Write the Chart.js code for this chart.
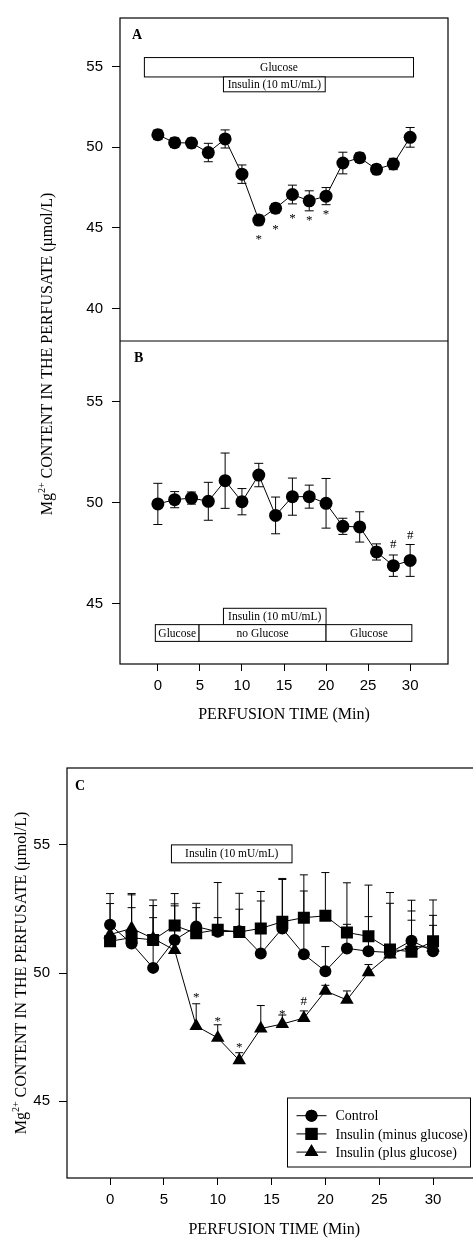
<!DOCTYPE html>
<html>
<head>
<meta charset="utf-8">
<title>Mg2+ content in the perfusate</title>
<script src="https://cdn.jsdelivr.net/npm/chart.js@4.4.1/dist/chart.umd.min.js"></script>
<style>
  html, body { margin: 0; padding: 0; background: #fff; overflow: hidden; }
  body { width: 473px; height: 1240px; position: relative; }
  .panel { position: absolute; left: 0; }
</style>
</head>
<body>
<div class="panel" style="top:0"><canvas id="chart-ab" width="473" height="740"></canvas></div>
<div class="panel" style="top:740px"><canvas id="chart-c" width="490" height="500"></canvas></div>
<script>
// ---- data ----
const timePoints = [0, 2, 4, 6, 8, 10, 12, 14, 16, 18, 20, 22, 24, 26, 28, 30];
const xTicks = [0, 5, 10, 15, 20, 25, 30];
const yTicksA = [40, 45, 50, 55];
const yTicksB = [45, 50, 55];
const yTicksC = [45, 50, 55];

// panel A: insulin with glucose
const valuesA = [50.77, 50.28, 50.26, 49.67, 50.51, 48.33, 45.49, 46.22, 47.07, 46.68, 46.97, 49.02, 49.35, 48.63, 48.96, 50.61];
const errorsA = [0.3, 0.3, 0.3, 0.57, 0.56, 0.57, 0.3, 0.3, 0.58, 0.62, 0.53, 0.67, 0.3, 0.3, 0.35, 0.61];
const marksA = [
  { x: 12, y: 44.41, text: "*" }, { x: 14, y: 45.02, text: "*" }, { x: 16, y: 45.69, text: "*" },
  { x: 18, y: 45.57, text: "*" }, { x: 20, y: 45.93, text: "*" },
];
const treatmentsA = [
  { label: "Glucose", from: -1.6, to: 30.4, row: 0 },
  { label: "Insulin (10 mU/mL)", from: 7.8, to: 19.9, row: 1 },
];

// panel B: insulin without glucose
const valuesB = [49.93, 50.14, 50.22, 50.06, 51.08, 50.04, 51.36, 49.36, 50.29, 50.29, 49.96, 48.82, 48.79, 47.55, 46.87, 47.13];
const errorsB = [1.02, 0.4, 0.3, 0.94, 1.37, 0.65, 0.58, 0.91, 0.92, 0.57, 1.23, 0.4, 0.75, 0.4, 0.53, 0.79];
const marksB = [{ x: 28, y: 47.9, text: "#" }, { x: 30, y: 48.37, text: "#" }];
const treatmentsB = [
  { label: "Insulin (10 mU/mL)", from: 7.8, to: 20.0, row: 0 },
  { label: "Glucose", from: -0.3, to: 4.9, row: 1 },
  { label: "no Glucose", from: 4.9, to: 20.0, row: 1 },
  { label: "Glucose", from: 20.0, to: 30.2, row: 1 },
];

// panel C: three groups, upper error bars only
const seriesLabelsC = ["Control", "Insulin (minus glucose)", "Insulin (plus glucose)"];
const controlC = [51.88, 51.15, 50.2, 51.29, 51.81, 51.61, 51.63, 50.76, 51.74, 50.73, 50.07, 50.96, 50.85, 50.8, 51.26, 50.85];
const controlErrC = [1.22, 1.9, 2.43, 1.41, 0.91, 0.55, 0.86, 2.05, 1.91, 2.47, 0.96, 0.94, 1.35, 1.92, 1.16, 1.4];
const minusGlucoseC = [51.24, 51.38, 51.29, 51.85, 51.55, 51.69, 51.6, 51.74, 52.0, 52.16, 52.23, 51.58, 51.43, 50.92, 50.83, 51.24];
const minusGlucoseErrC = [1.47, 1.72, 1.56, 1.25, 1.0, 1.84, 1.51, 1.44, 1.69, 1.67, 1.69, 1.94, 2.0, 2.22, 2.01, 1.61];
const plusGlucoseC = [51.5, 51.74, 51.35, 50.89, 47.93, 47.47, 46.59, 47.83, 48.01, 48.24, 49.3, 48.95, 50.03, 50.72, 51.05, 50.99];
const plusGlucoseErrC = [0.3, 0.81, 0.81, 1.73, 0.87, 0.51, 0.3, 0.9, 0.35, 0.28, 0.22, 0.35, 0.3, 0.3, 1.01, 0.87];
const marksC = [
  { x: 8, y: 49.1, text: "*" }, { x: 10, y: 48.19, text: "*" }, { x: 12, y: 47.18, text: "*" },
  { x: 16, y: 48.45, text: "*" }, { x: 18, y: 48.87, text: "#" },
];
const treatmentsC = [{ label: "Insulin (10 mU/mL)", from: 5.7, to: 16.9, row: 0 }];

const Y_TITLE = ["Mg", "2+", " CONTENT IN THE PERFUSATE (\u00b5mol/L)"];
const X_TITLE = "PERFUSION TIME (Min)";

// ---- helpers ----
const SERIF = "'Liberation Serif', 'Times New Roman', serif";
const SANS = "'Liberation Sans', Arial, sans-serif";

const toXY = (values) => values.map((v, i) => ({ x: timePoints[i], y: v }));

function xScale(min, max, height) {
  return {
    type: "linear", position: "bottom", min, max,
    afterBuildTicks: (s) => { s.ticks = xTicks.map((v) => ({ value: v })); },
    afterFit: (s) => { s.height = height; },
    grid: { drawOnChartArea: false, drawTicks: true, tickLength: 7, color: "#000", lineWidth: 1 },
    border: { display: false },
    ticks: { color: "#000", padding: 6, maxRotation: 0, font: { family: SANS, size: 15 } },
  };
}

function yScale(min, max, tickValues, width, extra) {
  return Object.assign({
    type: "linear", position: "left", min, max,
    afterBuildTicks: (s) => { s.ticks = tickValues.map((v) => ({ value: v })); },
    afterFit: (s) => { s.width = width; },
    grid: { drawOnChartArea: false, drawTicks: true, tickLength: 8, color: "#000", lineWidth: 1 },
    border: { display: false },
    ticks: { color: "#000", padding: 9, font: { family: SANS, size: 15 } },
  }, extra || {});
}

function drawMarker(ctx, style, radius, x, y) {
  if (Chart.helpers && Chart.helpers.drawPoint) {
    Chart.helpers.drawPoint(ctx, { pointStyle: style, radius, rotation: 0, borderWidth: 0 }, x, y);
    ctx.fill();
  }
}

// error bars under the markers
const errorBarPlugin = {
  id: "errorBars",
  beforeDatasetsDraw(chart) {
    const ctx = chart.ctx;
    chart.data.datasets.forEach((ds, i) => {
      if (!ds.errors) return;
      const meta = chart.getDatasetMeta(i);
      const ys = chart.scales[meta.yAxisID];
      const cap = ds.capHalf || 4;
      ctx.save();
      ctx.strokeStyle = "#000";
      ctx.lineWidth = 1;
      meta.data.forEach((pt, j) => {
        const v = ds.data[j].y;
        const err = ds.errors[j];
        const top = ys.getPixelForValue(v + err);
        const bottom = ds.errorDir === "up" ? pt.y : ys.getPixelForValue(v - err);
        ctx.beginPath();
        ctx.moveTo(pt.x, top);
        ctx.lineTo(pt.x, bottom);
        ctx.moveTo(pt.x - cap, top);
        ctx.lineTo(pt.x + cap, top);
        if (ds.errorDir !== "up") {
          ctx.moveTo(pt.x - cap, bottom);
          ctx.lineTo(pt.x + cap, bottom);
        }
        ctx.stroke();
      });
      ctx.restore();
    });
  },
};

// frame, treatment boxes, significance marks, panel letters, titles, legend
const figurePlugin = {
  id: "figure",
  afterDatasetsDraw(chart, args, opts) {
    const { ctx, chartArea: area, scales } = chart;
    const xs = scales.x;
    ctx.save();
    ctx.strokeStyle = "#000";
    ctx.fillStyle = "#000";

    // treatment boxes
    ctx.lineWidth = 1;
    ctx.textAlign = "center";
    ctx.textBaseline = "middle";
    (opts.treatments || []).forEach((group) => {
      const ys = scales[group.scale];
      group.items.forEach((b) => {
        const row = group.rows[b.row];
        const l = xs.getPixelForValue(b.from);
        const r = xs.getPixelForValue(b.to);
        const t = ys.getPixelForValue(row[0]);
        const bt = ys.getPixelForValue(row[1]);
        ctx.fillStyle = "#fff";
        ctx.fillRect(l, t, r - l, bt - t);
        ctx.strokeRect(l, t, r - l, bt - t);
        ctx.fillStyle = "#000";
        ctx.font = `${group.fontSize || 11.5}px ${SERIF}`;
        ctx.fillText(b.label, (l + r) / 2, (t + bt) / 2 + 0.5);
      });
    });

    // significance marks
    ctx.font = `13px ${SERIF}`;
    (opts.marks || []).forEach((group) => {
      const ys = scales[group.scale];
      group.items.forEach((m) => {
        const dy = m.text === "*" ? 2 : 0;
        ctx.fillText(m.text, xs.getPixelForValue(m.x), ys.getPixelForValue(m.y) + dy);
      });
    });

    // frame and panel dividers
    ctx.lineWidth = 1.2;
    ctx.strokeRect(area.left, area.top, area.width, area.height);
    (opts.dividers || []).forEach((id) => {
      const y = scales[id].bottom;
      ctx.beginPath();
      ctx.moveTo(area.left, y);
      ctx.lineTo(area.right, y);
      ctx.stroke();
    });

    // panel letters
    ctx.textAlign = "left";
    ctx.font = `bold 14px ${SERIF}`;
    (opts.letters || []).forEach((p) => {
      ctx.fillText(p.text, area.left + p.dx, scales[p.scale].top + p.dy);
    });

    // x title
    ctx.textAlign = "center";
    ctx.font = `16px ${SERIF}`;
    ctx.fillText(X_TITLE, (area.left + area.right) / 2, area.bottom + opts.xTitleOffset);

    // y title with superscript, rotated
    ctx.save();
    ctx.translate(opts.yTitle.x, (area.top + area.bottom) / 2 + opts.yTitle.dy);
    ctx.rotate(-Math.PI / 2);
    ctx.textAlign = "left";
    ctx.font = `16px ${SERIF}`;
    const w1 = ctx.measureText(Y_TITLE[0]).width;
    const w3 = ctx.measureText(Y_TITLE[2]).width;
    ctx.font = `10px ${SERIF}`;
    const w2 = ctx.measureText(Y_TITLE[1]).width;
    let x0 = -(w1 + w2 + w3) / 2;
    ctx.font = `16px ${SERIF}`;
    ctx.fillText(Y_TITLE[0], x0, 0);
    ctx.font = `10px ${SERIF}`;
    ctx.fillText(Y_TITLE[1], x0 + w1, -6);
    ctx.font = `16px ${SERIF}`;
    ctx.fillText(Y_TITLE[2], x0 + w1 + w2, 0);
    ctx.restore();

    // legend box
    if (opts.legend) {
      const lg = opts.legend;
      const left = area.right - lg.right - lg.width;
      const top = area.bottom - lg.bottom - lg.height;
      ctx.lineWidth = 1;
      ctx.fillStyle = "#fff";
      ctx.fillRect(left, top, lg.width, lg.height);
      ctx.strokeRect(left, top, lg.width, lg.height);
      ctx.fillStyle = "#000";
      ctx.textAlign = "left";
      ctx.font = `14px ${SERIF}`;
      chart.data.datasets.forEach((ds, i) => {
        const y = top + lg.firstRow + i * lg.rowGap;
        ctx.beginPath();
        ctx.moveTo(left + lg.lineFrom, y);
        ctx.lineTo(left + lg.lineTo, y);
        ctx.stroke();
        drawMarker(ctx, ds.pointStyle, ds.pointRadius, left + (lg.lineFrom + lg.lineTo) / 2, y);
        ctx.fillText(ds.label, left + lg.textX, y + 1);
      });
    }
    ctx.restore();
  },
};

const lineStyle = {
  borderColor: "#000", borderWidth: 1, backgroundColor: "#000",
  pointBackgroundColor: "#000", pointBorderColor: "#000", pointBorderWidth: 0,
  pointHoverRadius: 0, tension: 0,
};

// ---- panels A and B share one canvas, stacked y scales ----
new Chart(document.getElementById("chart-ab"), {
  type: "line",
  data: {
    datasets: [
      Object.assign({}, lineStyle, {
        label: "A", data: toXY(valuesA), yAxisID: "yA", pointStyle: "circle", pointRadius: 6.5,
        errors: errorsA, errorDir: "both", capHalf: 4.5,
      }),
      Object.assign({}, lineStyle, {
        label: "B", data: toXY(valuesB), yAxisID: "yB", pointStyle: "circle", pointRadius: 6.5,
        errors: errorsB, errorDir: "both", capHalf: 4.5,
      }),
    ],
  },
  options: {
    responsive: false,
    animation: false,
    events: [],
    layout: { padding: { top: 8, right: 25, bottom: 0, left: 0 } },
    scales: {
      x: xScale(-4.5, 34.5, 76),
      yA: yScale(38, 58, yTicksA, 120, { stack: "ab", stackWeight: 1, weight: 1 }),
      yB: yScale(42, 58, yTicksB, 120, { stack: "ab", stackWeight: 1, weight: 0 }),
    },
    plugins: {
      legend: { display: false },
      tooltip: { enabled: false },
      figure: {
        treatments: [
          { scale: "yA", rows: [[55.55, 54.35], [54.35, 53.43]], items: treatmentsA, fontSize: 11.5 },
          { scale: "yB", rows: [[44.76, 43.95], [43.95, 43.12]], items: treatmentsB, fontSize: 11.5 },
        ],
        marks: [{ scale: "yA", items: marksA }, { scale: "yB", items: marksB }],
        dividers: ["yA"],
        letters: [{ text: "A", scale: "yA", dx: 12, dy: 17 }, { text: "B", scale: "yB", dx: 14, dy: 17 }],
        xTitleOffset: 51,
        yTitle: { x: 48, dy: 13 },
      },
    },
  },
  plugins: [errorBarPlugin, figurePlugin],
});

// ---- panel C ----
new Chart(document.getElementById("chart-c"), {
  type: "line",
  data: {
    datasets: [
      Object.assign({}, lineStyle, {
        label: seriesLabelsC[0], data: toXY(controlC), yAxisID: "y", pointStyle: "circle", pointRadius: 6,
        errors: controlErrC, errorDir: "up", capHalf: 4,
      }),
      Object.assign({}, lineStyle, {
        label: seriesLabelsC[1], data: toXY(minusGlucoseC), yAxisID: "y", pointStyle: "rect", pointRadius: 8.5,
        errors: minusGlucoseErrC, errorDir: "up", capHalf: 4,
      }),
      Object.assign({}, lineStyle, {
        label: seriesLabelsC[2], data: toXY(plusGlucoseC), yAxisID: "y", pointStyle: "triangle", pointRadius: 7.8,
        errors: plusGlucoseErrC, errorDir: "up", capHalf: 4,
      }),
    ],
  },
  options: {
    responsive: false,
    animation: false,
    events: [],
    layout: { padding: { top: 28, right: 7, bottom: 0, left: 0 } },
    scales: {
      x: xScale(-4, 34.5, 62),
      y: yScale(42, 58, yTicksC, 67),
    },
    plugins: {
      legend: { display: false },
      tooltip: { enabled: false },
      figure: {
        treatments: [{ scale: "y", rows: [[55.0, 54.3]], items: treatmentsC, fontSize: 11.5 }],
        marks: [{ scale: "y", items: marksC }],
        letters: [{ text: "C", scale: "y", dx: 8, dy: 18 }],
        xTitleOffset: 52,
        yTitle: { x: 22, dy: 0 },
        legend: { right: 11, bottom: 11, width: 183, height: 69, firstRow: 17.7, rowGap: 18.2, lineFrom: 9, lineTo: 39, textX: 48 },
      },
    },
  },
  plugins: [errorBarPlugin, figurePlugin],
});
</script>
</body>
</html>
